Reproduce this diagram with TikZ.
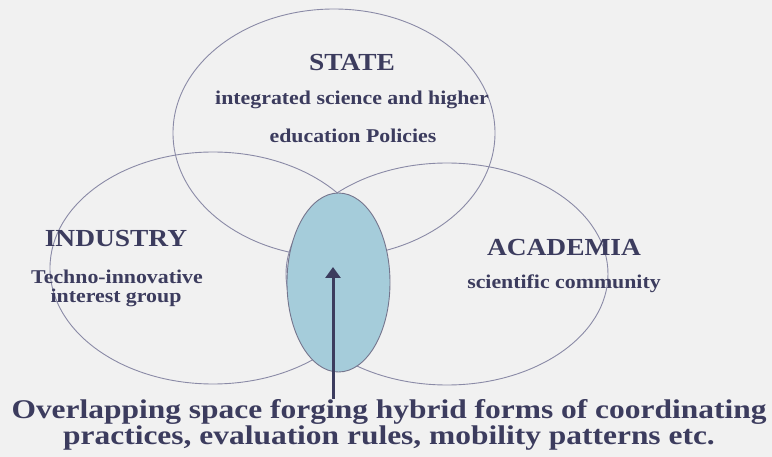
\documentclass[tikz,border=0pt]{standalone}
\usepackage{fontspec}
\setmainfont{Liberation Serif}
\usetikzlibrary{shapes.geometric,arrows.meta}
\definecolor{ink}{HTML}{3C3C5E}
\definecolor{rim}{HTML}{8A8AA6}
\definecolor{lake}{HTML}{A5CCDA}
\definecolor{paper}{HTML}{F1F1F1}
\tikzset{
  sector/.style={ellipse, draw=rim, line width=.9pt, inner sep=0pt, outer sep=0pt},
  head/.style={text=ink, inner sep=0pt, xscale=1.12, font=\bfseries\fontsize{24.5}{26}\selectfont},
  sub/.style={text=ink, inner sep=0pt, xscale=1.12, font=\bfseries\fontsize{19.5}{21}\selectfont},
}
\begin{document}
\begin{tikzpicture}[x=1pt, y=-1pt, >=Stealth]
 \fill[paper] (0,0) rectangle (772,457);
 \useasboundingbox (0,0) rectangle (772,457);
 % the three spheres
 \node[sector, minimum width=322pt, minimum height=248pt] (state) at (334,133) {};
 \node[sector, minimum width=326pt, minimum height=232pt] (industry) at (213,268) {};
 \node[sector, minimum width=322pt, minimum height=222pt] (academia) at (447,274) {};
 \node[sector, fill=lake, draw=rim!85!black, minimum width=103pt, minimum height=179pt] (overlap) at (338.5,282.5) {};
 % labels
 \node[head] (statename) at (352,63) {STATE};
 \node[sub] (statetxt) at (352,100) {integrated science and higher};
 \node[sub] (statetxtb) at (353,136) {education Policies};
 \node[head] (industryname) at (116,239) {INDUSTRY};
 \node[sub] (industrytxt) at (117,277) {Techno-innovative};
 \node[sub] (industrytxtb) at (116,298) {interest group};
 \node[head] (academianame) at (564,248) {ACADEMIA};
 \node[sub] (academiatxt) at (564,284) {scientific community};
 \node[text=ink, align=center, inner sep=0pt, xscale=1.165, font=\bfseries\fontsize{27}{26}\selectfont] (note) at (389,425)
   {Overlapping space forging hybrid forms of coordinating\\practices, evaluation rules, mobility patterns etc.};
 \coordinate (tip) at (333,267);
 \draw[->, ink, line width=3pt, arrows={-Triangle[length=11pt, width=15pt]}] (tip |- note.north) -- (tip);
\end{tikzpicture}
\end{document}
